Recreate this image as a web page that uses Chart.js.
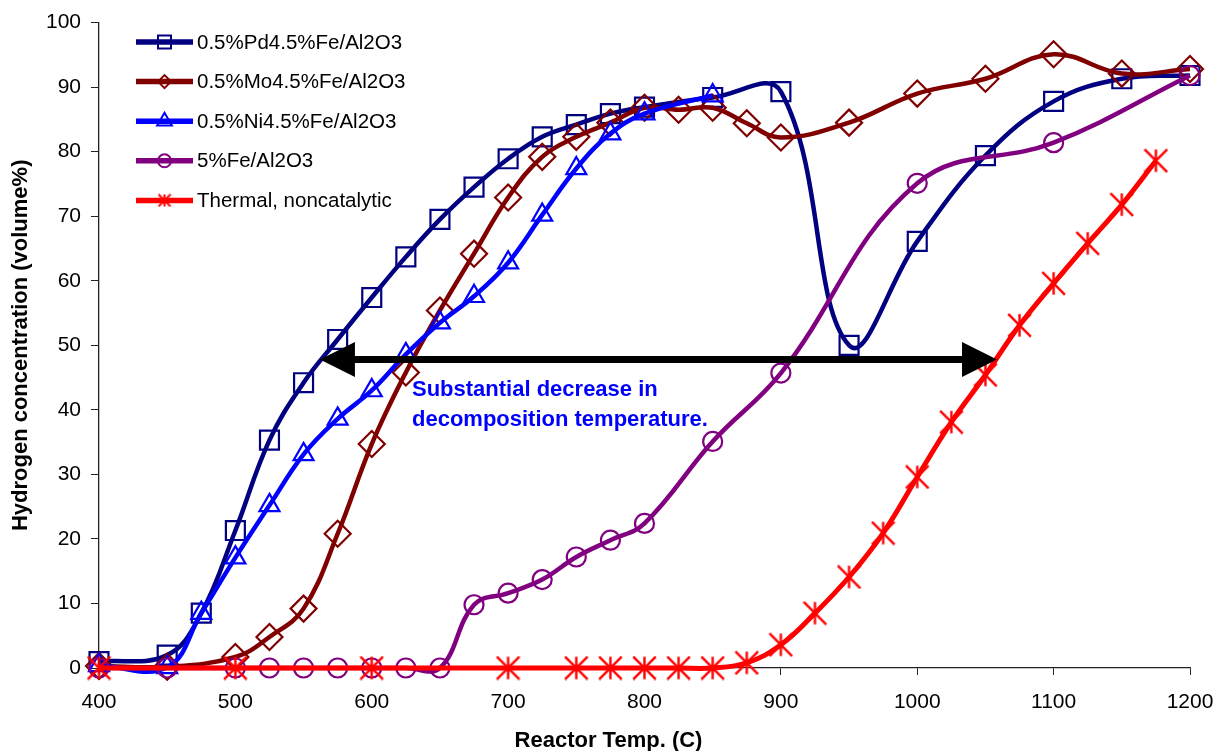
<!DOCTYPE html>
<html>
<head>
<meta charset="utf-8">
<script src="https://cdn.jsdelivr.net/npm/chart.js@4.4.0/dist/chart.umd.min.js"></script>
<style>
  html, body { margin: 0; padding: 0; background: #fff; }
</style>
</head>
<body>
<canvas id="h2Chart" width="1219" height="751"></canvas>
<script>
const seriesNames = ['0.5%Pd4.5%Fe/Al2O3', '0.5%Mo4.5%Fe/Al2O3', '0.5%Ni4.5%Fe/Al2O3', '5%Fe/Al2O3', 'Thermal, noncatalytic'];

const pdTemp = [400, 450, 475, 500, 525, 550, 575, 600, 625, 650, 675, 700, 725, 750, 775, 800, 850, 900, 950, 1000, 1050, 1100, 1150, 1200];
const pdH2 = [1.0, 2.0, 8.5, 21.3, 35.3, 44.2, 50.9, 57.4, 63.7, 69.5, 74.5, 78.9, 82.3, 84.2, 85.9, 86.9, 88.4, 89.3, 50.0, 66.1, 79.4, 87.8, 91.3, 91.8];

const moTemp = [400, 450, 500, 525, 550, 575, 600, 625, 650, 675, 700, 725, 750, 775, 800, 825, 850, 875, 900, 950, 1000, 1050, 1100, 1150, 1200];
const moH2 = [0.3, 0.2, 1.7, 4.8, 9.2, 20.8, 34.7, 45.8, 55.4, 64.2, 72.9, 79.2, 82.3, 84.5, 86.8, 86.5, 86.8, 84.4, 82.2, 84.5, 89.0, 91.3, 95.1, 92.1, 92.8];

const niTemp = [400, 450, 475, 500, 525, 550, 575, 600, 625, 650, 675, 700, 725, 750, 775, 800, 850];
const niH2 = [0.4, 0.1, 8.5, 17.1, 25.2, 33.1, 38.6, 43.0, 48.6, 53.5, 57.6, 62.8, 70.2, 77.4, 82.8, 85.9, 88.7];

const feTemp = [400, 450, 500, 525, 550, 575, 600, 625, 650, 675, 700, 725, 750, 775, 800, 850, 900, 1000, 1100, 1200];
const feH2 = [0, 0, 0, 0, 0, 0, 0, 0, 0, 9.8, 11.6, 13.7, 17.2, 19.8, 22.4, 35.1, 45.7, 75.1, 81.4, 91.8];

const thTemp = [400, 500, 600, 700, 750, 775, 800, 825, 850, 875, 900, 925, 950, 975, 1000, 1025, 1050, 1075, 1100, 1125, 1150, 1175];
const thH2 = [0, 0, 0, 0, 0, 0, 0, 0, 0, 0.8, 3.6, 8.5, 14.1, 20.9, 29.6, 38.1, 45.4, 53.1, 59.6, 65.8, 71.8, 78.6];

const xTickValues = [400, 500, 600, 700, 800, 900, 1000, 1100, 1200];
const yTickValues = [0, 10, 20, 30, 40, 50, 60, 70, 80, 90, 100];

// double arrow: temperatures at the two tips, at one H2 level
const arrowTemps = [562, 1058.5];
const arrowLevel = 47.8;
const noteLines = ['Substantial decrease in', 'decomposition temperature.'];
const notePos = [629.5, 42.1];

const xTitle = 'Reactor Temp. (C)';
const yTitle = 'Hydrogen concentration (volume%)';

const FONT = '"Liberation Sans", Arial, sans-serif';
Chart.defaults.font.family = FONT;
Chart.defaults.color = '#000';

function starMarker(size, color, lw) {
  const c = document.createElement('canvas');
  c.width = size; c.height = size;
  const g = c.getContext('2d');
  g.strokeStyle = color;
  g.lineWidth = lw;
  const m = size / 2, e = lw / 2;
  g.beginPath();
  g.moveTo(m, e); g.lineTo(m, size - e);
  g.moveTo(e, e); g.lineTo(size - e, size - e);
  g.moveTo(size - e, e); g.lineTo(e, size - e);
  g.stroke();
  return c;
}

const styles = [
  { color: '#000080', point: 'rect', radius: 13.4, legendR: 9.2 },
  { color: '#800000', point: 'rectRot', radius: 13, legendR: 6.5 },
  { color: '#0000ff', point: 'triangle', radius: 11.5, legendR: 8.5 },
  { color: '#800080', point: 'circle', radius: 9.5, legendR: 6.5 },
  { color: '#ff0000', point: starMarker(25, '#ff0000', 2.4), radius: 12.5, legendR: 6.5 }
];
const legendStar = starMarker(14, '#ff0000', 2);

const series = [[pdTemp, pdH2], [moTemp, moH2], [niTemp, niH2], [feTemp, feH2], [thTemp, thH2]];
const toPoints = (xs, ys) => xs.map((x, i) => ({ x: x, y: ys[i] }));

const datasets = series.map((s, i) => ({
  label: seriesNames[i],
  data: toPoints(s[0], s[1]),
  borderColor: styles[i].color,
  backgroundColor: 'rgba(0,0,0,0)',
  borderWidth: i === 4 ? 5 : 4.5,
  pointStyle: styles[i].point,
  pointRadius: styles[i].radius,
  pointBorderWidth: 2.2,
  pointBorderColor: styles[i].color,
  pointBackgroundColor: 'rgba(0,0,0,0)',
  tension: 0.4,
  clip: false,
  order: 4 - i
}));

const annotations = {
  id: 'annotations',
  afterDatasetsDraw(chart) {
    const { ctx, scales: { x, y } } = chart;
    const x1 = x.getPixelForValue(arrowTemps[0]);
    const x2 = x.getPixelForValue(arrowTemps[1]);
    const ya = y.getPixelForValue(arrowLevel);
    const head = 35, half = 17.5;
    ctx.save();
    ctx.fillStyle = '#000';
    ctx.fillRect(x1 + head - 1, ya - 3.5, x2 - x1 - 2 * head + 2, 7);
    ctx.beginPath();
    ctx.moveTo(x1, ya); ctx.lineTo(x1 + head, ya - half); ctx.lineTo(x1 + head, ya + half); ctx.closePath();
    ctx.moveTo(x2, ya); ctx.lineTo(x2 - head, ya - half); ctx.lineTo(x2 - head, ya + half); ctx.closePath();
    ctx.fill();

    ctx.font = 'bold 22px ' + FONT;
    ctx.fillStyle = '#0000ff';
    ctx.textBaseline = 'alphabetic';
    const nx = x.getPixelForValue(notePos[0]);
    const ny = y.getPixelForValue(notePos[1]);
    noteLines.forEach((t, i) => ctx.fillText(t, nx, ny + i * 30));
    ctx.restore();
  }
};

const legendBox = {
  id: 'legendBox',
  afterDraw(chart) {
    const { ctx, chartArea } = chart;
    const left = 136, right = 193, textX = 197, top = 42, step = 39.6;
    ctx.save();
    ctx.font = '20.5px ' + FONT;
    ctx.textBaseline = 'middle';
    chart.data.datasets.forEach((ds, i) => {
      const yy = top + i * step;
      ctx.strokeStyle = ds.borderColor;
      ctx.lineWidth = 5.5;
      ctx.beginPath(); ctx.moveTo(left, yy); ctx.lineTo(right, yy); ctx.stroke();
      ctx.lineWidth = 2;
      ctx.fillStyle = 'rgba(0,0,0,0)';
      const ps = i === 4 ? legendStar : styles[i].point;
      Chart.helpers.drawPoint(ctx, { pointStyle: ps, radius: styles[i].legendR, borderWidth: 2, rotation: 0 }, (left + right) / 2, yy);
      ctx.fillStyle = '#000';
      ctx.fillText(ds.label, textX, yy + 1);
    });

    // x axis title sits a bit left of centre in the original
    ctx.font = 'bold 22px ' + FONT;
    ctx.textAlign = 'center';
    ctx.textBaseline = 'alphabetic';
    ctx.fillText(xTitle, chartArea.left + chartArea.width * 0.467, 747);
    ctx.restore();
  }
};

new Chart(document.getElementById('h2Chart').getContext('2d'), {
  type: 'line',
  data: { datasets: datasets },
  options: {
    responsive: false,
    animation: false,
    layout: { padding: { left: 4, right: 29, top: 22, bottom: 0 } },
    elements: { line: { capBezierPoints: false } },
    plugins: { legend: { display: false }, tooltip: { enabled: false } },
    scales: {
      x: {
        type: 'linear',
        min: xTickValues[0],
        max: xTickValues[xTickValues.length - 1],
        afterBuildTicks: s => { s.ticks = xTickValues.map(v => ({ value: v })); },
        afterFit: s => { s.height = 83; s.paddingLeft = 0; s.paddingRight = 0; },
        grid: { drawOnChartArea: false, tickLength: 7, color: '#222' },
        border: { color: '#222', width: 1.3 },
        ticks: { font: { size: 21 }, padding: 15, maxRotation: 0, callback: v => String(v) }
      },
      y: {
        min: yTickValues[0],
        max: yTickValues[yTickValues.length - 1],
        afterBuildTicks: s => { s.ticks = yTickValues.map(v => ({ value: v })); },
        afterFit: s => { s.width = 95; },
        grid: { drawOnChartArea: false, tickLength: 8, color: '#222' },
        border: { color: '#222', width: 1.3 },
        ticks: { font: { size: 21 }, padding: 10, callback: v => String(v) },
        title: { display: true, text: yTitle, font: { size: 22, weight: 'bold' }, padding: { top: 4, bottom: 0 } }
      }
    }
  },
  plugins: [annotations, legendBox]
});
</script>
</body>
</html>
